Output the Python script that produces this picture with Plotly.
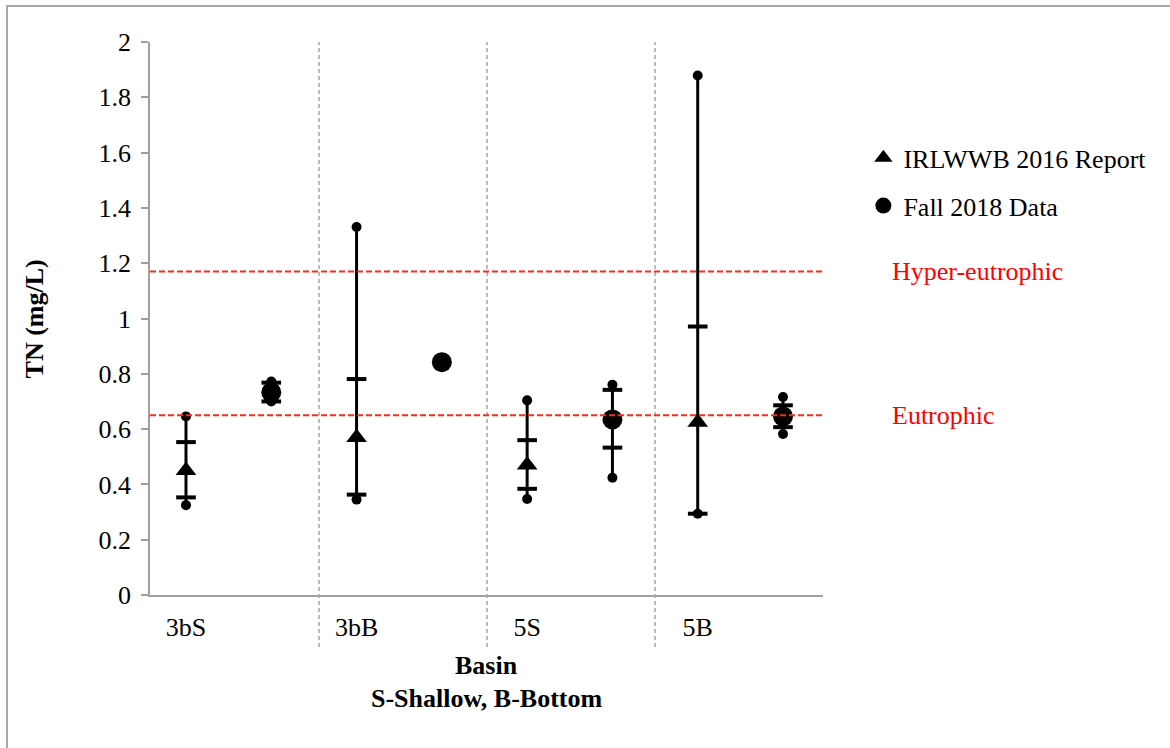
import plotly.graph_objects as go

# ---- data ----
basins = ["3bS", "3bB", "5S", "5B"]
# IRLWWB 2016 Report (triangles)
rep_mean = [0.45, 0.57, 0.47, 0.625]
rep_min = [0.325, 0.345, 0.347, 0.294]
rep_lo = [0.353, 0.363, 0.384, 0.294]
rep_hi = [0.553, 0.781, 0.56, 0.971]
rep_max = [0.646, 1.331, 0.704, 1.879]
# Fall 2018 Data (circles)
fall_mean = [0.733, 0.842, 0.635, 0.646]
fall_min = [0.70, None, 0.424, 0.582]
fall_lo = [0.70, None, 0.533, 0.607]
fall_hi = [0.768, None, 0.742, 0.686]
fall_max = [0.772, None, 0.76, 0.716]

thresholds = [1.17, 0.65]
threshold_labels = ["Hyper-eutrophic", "Eutrophic"]

# ---- layout constants ----
FONT = "Liberation Serif, Times New Roman, serif"
X_RANGE = [0.578, 8.469]
rep_x = [1, 3, 5, 7]
fall_x = [2, 4, 6, 8]
separators = [2.56, 4.53, 6.5]

fig = go.Figure()

def add_series(xs, mins, los, his, maxs):
    lx, ly, cx, cy, dx, dy = [], [], [], [], [], []
    for x, mn, lo, hi, mx in zip(xs, mins, los, his, maxs):
        if mn is None:
            continue
        lx += [x, x, None]
        ly += [mn, mx, None]
        cx += [x, x]
        cy += [mn, mx]
        dx += [x, x]
        dy += [lo, hi]
    fig.add_trace(go.Scatter(x=lx, y=ly, mode="lines", line=dict(color="black", width=3),
                             showlegend=False, hoverinfo="skip"))
    fig.add_trace(go.Scatter(x=cx, y=cy, mode="markers",
                             marker=dict(symbol="circle", size=10, color="black"),
                             showlegend=False, hoverinfo="skip"))
    fig.add_trace(go.Scatter(x=dx, y=dy, mode="markers",
                             marker=dict(symbol="line-ew", size=14,
                                         line=dict(color="black", width=4)),
                             showlegend=False, hoverinfo="skip"))

add_series(rep_x, rep_min, rep_lo, rep_hi, rep_max)
add_series(fall_x, fall_min, fall_lo, fall_hi, fall_max)

fig.add_trace(go.Scatter(x=rep_x, y=rep_mean, mode="markers", name="IRLWWB 2016 Report",
                         legendgroup="a",
                         marker=dict(symbol="triangle-up", size=18, color="black")))
fig.add_trace(go.Scatter(x=fall_x, y=fall_mean, mode="markers", name="Fall 2018 Data",
                         legendgroup="b",
                         marker=dict(symbol="circle", size=20, color="black")))

shapes = []
for s in separators:
    px = (s - X_RANGE[0]) / (X_RANGE[1] - X_RANGE[0])
    shapes.append(dict(type="line", xref="paper", yref="paper", x0=px, x1=px, y0=-0.094, y1=1,
                       line=dict(color="#a6a6a6", width=1.5, dash="4px,3px")))
for t in thresholds:
    shapes.append(dict(type="line", xref="paper", yref="y", x0=0, x1=1, y0=t, y1=t,
                       line=dict(color="#ff2a1a", width=2, dash="6px,3px")))
shapes.append(dict(type="rect", xref="paper", yref="paper", x0=-0.2125, x1=2, y0=-1, y1=1.0651,
                   line=dict(color="#a8a8a8", width=2)))

annotations = []
for t, lab in zip(thresholds, threshold_labels):
    annotations.append(dict(text=lab, xref="paper", yref="y", x=1.0996, y=t, xanchor="left",
                            yanchor="middle", showarrow=False,
                            font=dict(family=FONT, size=26, color="#ff0000")))
annotations.append(dict(text="<b>TN (mg/L)</b>", xref="paper", yref="paper", x=-0.171, y=0.5,
                        textangle=-90, showarrow=False, xanchor="center", yanchor="middle",
                        font=dict(family=FONT, size=26, color="black")))
annotations.append(dict(text="<b>Basin</b>", xref="paper", yref="paper", x=0.5, y=-0.128,
                        showarrow=False, xanchor="center", yanchor="middle",
                        font=dict(family=FONT, size=26, color="black")))
annotations.append(dict(text="<b>S-Shallow, B-Bottom</b>", xref="paper", yref="paper", x=0.5,
                        y=-0.188, showarrow=False, xanchor="center", yanchor="middle",
                        font=dict(family=FONT, size=26, color="black")))

fig.update_layout(
    width=1170, height=748,
    margin=dict(l=150, r=347, t=42, b=153),
    paper_bgcolor="white", plot_bgcolor="white",
    font=dict(family=FONT, size=26, color="black"),
    shapes=shapes, annotations=annotations,
    legend=dict(x=1.06, y=0.833, xanchor="left", yanchor="top",
                font=dict(family=FONT, size=26, color="black"),
                tracegroupgap=11, bgcolor="rgba(0,0,0,0)"),
    xaxis=dict(range=X_RANGE, tickvals=rep_x, ticktext=basins, showgrid=False,
               zeroline=False, showline=True, linecolor="#a0a0a0", linewidth=1.5,
               ticks="", ticklabelstandoff=8,
               tickfont=dict(family=FONT, size=26, color="black")),
    yaxis=dict(range=[0, 2], dtick=0.2, tick0=0, showgrid=False, zeroline=False,
               showline=True, linecolor="#a0a0a0", linewidth=1.5, ticks="outside",
               ticklen=7, tickcolor="#a0a0a0", tickwidth=1.5, ticklabelstandoff=5,
               tickfont=dict(family=FONT, size=26, color="black")),
)

fig.write_html("out.html")
